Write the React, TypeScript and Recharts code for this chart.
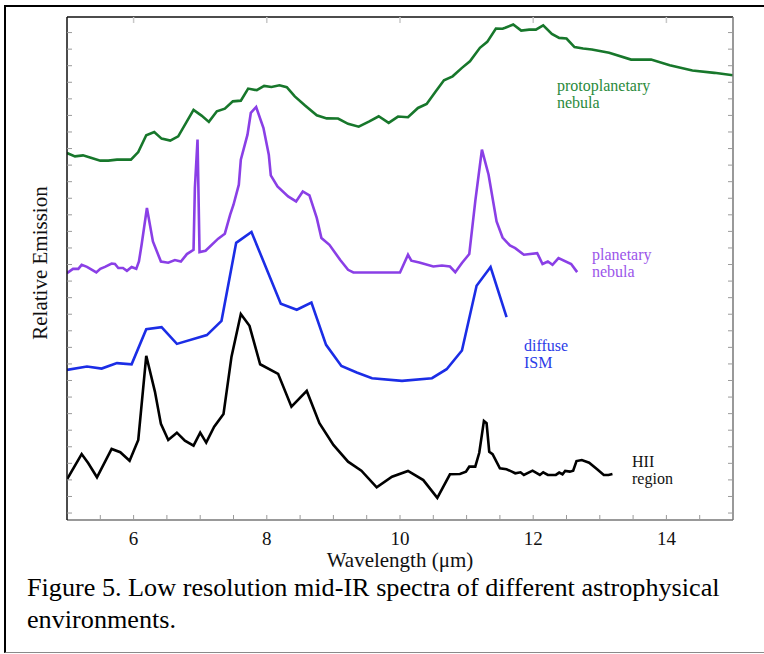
import React from 'react';
import { LineChart, Line, XAxis, YAxis } from 'recharts';

// Wavelength (µm), relative emission (arbitrary, offset per spectrum)
const protoplanetary: number[][] = [
  [5.0, 21.73], [5.12, 21.53], [5.24, 21.59], [5.37, 21.43], [5.5, 21.27], [5.62, 21.27], [5.75, 21.33],
  [5.96, 21.33], [6.07, 21.79], [6.19, 22.8], [6.31, 23.0], [6.42, 22.6], [6.55, 22.48], [6.67, 22.74],
  [6.9, 24.33], [7.02, 23.99], [7.13, 23.61], [7.25, 24.25], [7.37, 24.41], [7.49, 24.85], [7.61, 24.89],
  [7.72, 25.62], [7.85, 25.52], [7.96, 25.78], [8.07, 25.72], [8.19, 25.82], [8.3, 25.7], [8.42, 25.15],
  [8.57, 24.61], [8.75, 24.01], [8.9, 23.82], [9.07, 23.81], [9.22, 23.49], [9.38, 23.32], [9.54, 23.64],
  [9.68, 23.95], [9.83, 23.55], [9.97, 23.93], [10.12, 23.89], [10.27, 24.45], [10.4, 24.69], [10.53, 25.42],
  [10.66, 26.12], [10.79, 26.36], [10.93, 26.87], [11.05, 27.27], [11.2, 28.08], [11.31, 28.44], [11.44, 29.24],
  [11.54, 29.23], [11.58, 29.29], [11.7, 29.49], [11.82, 29.12], [11.94, 29.18], [12.04, 29.18], [12.15, 29.44],
  [12.28, 28.92], [12.39, 28.68], [12.5, 28.64], [12.62, 28.12], [12.75, 28.04], [12.88, 27.98], [13.14, 27.78],
  [13.47, 27.37], [13.77, 27.37], [14.05, 27.03], [14.39, 26.71], [14.72, 26.57], [15.0, 26.42],
];

const planetary: number[][] = [
  [5.0, 14.48], [5.09, 14.74], [5.17, 14.74], [5.22, 14.98], [5.3, 14.86], [5.44, 14.52], [5.5, 14.74],
  [5.57, 14.86], [5.67, 15.06], [5.72, 15.03], [5.77, 14.79], [5.84, 14.79], [5.9, 14.62], [5.97, 14.85],
  [6.04, 14.74], [6.08, 15.18], [6.12, 16.19], [6.2, 18.41], [6.29, 16.39], [6.41, 15.18], [6.52, 15.11],
  [6.62, 15.27], [6.71, 15.18], [6.8, 15.63], [6.9, 15.89], [6.92, 19.62], [6.96, 22.54], [6.99, 15.75],
  [7.08, 15.83], [7.27, 16.56], [7.37, 16.86], [7.45, 18.01], [7.5, 18.61], [7.58, 19.82], [7.61, 21.33],
  [7.71, 22.84], [7.76, 24.15], [7.84, 24.51], [7.95, 23.24], [8.03, 21.63], [8.06, 20.38], [8.16, 19.72],
  [8.32, 19.11], [8.44, 18.81], [8.54, 19.41], [8.64, 19.17], [8.75, 17.81], [8.82, 16.6], [8.94, 16.19],
  [9.1, 15.29], [9.22, 14.68], [9.3, 14.52], [10.0, 14.52], [10.12, 15.59], [10.17, 15.23], [10.29, 15.12],
  [10.5, 14.88], [10.63, 14.94], [10.75, 14.88], [10.83, 14.54], [10.93, 15.09], [11.04, 15.63], [11.13, 18.81],
  [11.23, 21.93], [11.33, 20.42], [11.45, 17.6], [11.54, 16.63], [11.65, 16.15], [11.73, 15.99], [11.86, 15.59],
  [12.06, 15.69], [12.14, 15.03], [12.22, 15.18], [12.29, 14.98], [12.38, 15.39], [12.57, 15.03], [12.66, 14.54],
];

const diffuseISM: number[][] = [
  [5.0, 8.64], [5.3, 8.84], [5.52, 8.72], [5.75, 9.05], [5.97, 8.98], [6.19, 11.1], [6.42, 11.22],
  [6.65, 10.21], [7.1, 10.74], [7.32, 11.6], [7.54, 16.31], [7.77, 16.96], [8.21, 12.63], [8.45, 12.27],
  [8.67, 12.71], [8.89, 10.15], [9.12, 8.88], [9.35, 8.48], [9.58, 8.14], [10.03, 7.98], [10.48, 8.14],
  [10.7, 8.68], [10.93, 9.81], [11.15, 13.72], [11.36, 14.85], [11.6, 11.82],
];

const hiiRegion: number[][] = [
  [5.0, 2.04], [5.22, 3.56], [5.32, 3.0], [5.45, 2.16], [5.67, 3.87], [5.8, 3.67], [5.94, 3.16],
  [6.07, 4.41], [6.19, 9.49], [6.32, 7.33], [6.41, 5.38], [6.52, 4.41], [6.65, 4.85], [6.77, 4.37],
  [6.9, 4.07], [7.0, 4.85], [7.09, 4.25], [7.21, 5.21], [7.35, 5.98], [7.47, 9.44], [7.61, 12.01],
  [7.74, 11.3], [7.9, 8.98], [8.17, 8.4], [8.37, 6.42], [8.6, 7.37], [8.79, 5.42], [9.0, 4.11],
  [9.22, 3.1], [9.42, 2.56], [9.65, 1.55], [9.88, 2.19], [10.12, 2.54], [10.35, 1.99], [10.56, 0.92],
  [10.75, 2.34], [10.9, 2.36], [10.99, 2.5], [11.04, 2.8], [11.13, 2.8], [11.19, 3.64], [11.26, 5.56],
  [11.3, 5.42], [11.34, 3.7], [11.39, 3.55], [11.5, 2.7], [11.6, 2.64], [11.68, 2.5], [11.73, 2.4],
  [11.81, 2.46], [11.86, 2.3], [11.99, 2.56], [12.1, 2.3], [12.15, 2.46], [12.22, 2.3], [12.34, 2.3],
  [12.39, 2.44], [12.44, 2.34], [12.48, 2.54], [12.55, 2.5], [12.6, 2.56], [12.65, 3.14], [12.73, 3.2],
  [12.84, 3.04], [12.96, 2.64], [13.06, 2.3], [13.13, 2.3], [13.19, 2.36],
];

const xLabelTicks = [6, 8, 10, 12, 14];
const xMinorTicks = [5.5, 6, 6.5, 7, 7.5, 8, 8.5, 9, 9.5, 10, 10.5, 11, 11.5, 12, 12.5, 13, 13.5, 14, 14.5];
const yTicks = [0, 1, 2, 3, 4, 5, 6, 7, 8, 9, 10, 11, 12, 13, 14, 15, 16, 17, 18, 19, 20, 21, 22, 23, 24, 25, 26, 27, 28, 29];

const toPts = (arr: number[][]) => arr.map(([x, y]) => ({ x, y }));

const FONT = '"Liberation Serif", "Times New Roman", serif';
const TICK_COLOR = '#9a9a9a';

const BottomTick = (props: any) => {
  const { x, y, payload } = props;
  const v = payload.value;
  return (
    <g>
      <line x1={x} x2={x} y1={y} y2={y - 5} stroke={TICK_COLOR} strokeWidth={1} />
      {xLabelTicks.includes(v) ? (
        <text x={x} y={y + 25} textAnchor="middle" fontFamily={FONT} fontSize={19} fill="#111">
          {v}
        </text>
      ) : null}
    </g>
  );
};

const TopTick = (props: any) => {
  const { x, y } = props;
  return <line x1={x} x2={x} y1={y} y2={y + 6} stroke="#c8c8c8" strokeWidth={1.5} />;
};

const LeftTick = (props: any) => {
  const { x, y } = props;
  return <line x1={x} x2={x + 5} y1={y} y2={y} stroke={TICK_COLOR} strokeWidth={1} />;
};

const RightTick = (props: any) => {
  const { x, y } = props;
  return <line x1={x} x2={x - 5} y1={y} y2={y} stroke={TICK_COLOR} strokeWidth={1} />;
};

const series = [
  { name: 'protoplanetary', data: protoplanetary, color: '#17772b' },
  { name: 'planetary', data: planetary, color: '#8a3fe6' },
  { name: 'diffuse', data: diffuseISM, color: '#1b2de6' },
  { name: 'hii', data: hiiRegion, color: '#000000' },
];

export default function App() {
  return (
    <div style={{ position: 'absolute', left: 0, top: 0, width: 764, height: 654, background: '#fff', overflow: 'hidden' }}>
      <div
        style={{
          position: 'absolute',
          left: 4,
          top: 5,
          width: 800,
          height: 645,
          borderLeft: '2px solid #000',
          borderTop: '2px solid #000',
          borderBottom: '1px solid #8a8a8a',
        }}
      />
      <div style={{ position: 'absolute', left: 0, top: 0 }}>
        <LineChart width={764} height={654} margin={{ top: 16, right: 30, bottom: 133, left: 66 }}>
          <XAxis
            xAxisId="bottom"
            type="number"
            dataKey="x"
            domain={[5, 15]}
            ticks={xMinorTicks}
            interval={0}
            height={1}
            tickSize={0}
            tickMargin={0}
            tickLine={false}
            tick={<BottomTick />}
            axisLine={{ stroke: '#777', strokeWidth: 1.5 }}
            allowDataOverflow
          />
          <XAxis
            xAxisId="top"
            orientation="top"
            type="number"
            dataKey="x"
            domain={[5, 15]}
            ticks={xLabelTicks}
            interval={0}
            height={1}
            tickSize={0}
            tickMargin={0}
            tickLine={false}
            tick={<TopTick />}
            axisLine={{ stroke: '#111', strokeWidth: 1.5 }}
            allowDataOverflow
          />
          <YAxis
            yAxisId="left"
            type="number"
            domain={[-0.42, 29.94]}
            ticks={yTicks}
            interval={0}
            width={1}
            tickSize={0}
            tickMargin={0}
            tickLine={false}
            tick={<LeftTick />}
            axisLine={{ stroke: '#111', strokeWidth: 1.5 }}
            allowDataOverflow
          />
          <YAxis
            yAxisId="right"
            orientation="right"
            type="number"
            domain={[-0.42, 29.94]}
            ticks={yTicks}
            interval={0}
            width={1}
            tickSize={0}
            tickMargin={0}
            tickLine={false}
            tick={<RightTick />}
            axisLine={{ stroke: '#777', strokeWidth: 1.5 }}
            allowDataOverflow
          />
          {series.map((s) => (
            <Line
              key={s.name}
              xAxisId="bottom"
              yAxisId="left"
              data={toPts(s.data)}
              dataKey="y"
              type="linear"
              stroke={s.color}
              strokeWidth={2.6}
              dot={false}
              activeDot={false}
              isAnimationActive={false}
            />
          ))}
        </LineChart>
      </div>
      <svg width={764} height={654} style={{ position: 'absolute', left: 0, top: 0, pointerEvents: 'none' }}>
        <g fontFamily={FONT}>
          <text x={557} y={91} fontSize={16} fill="#2a8a3b">protoplanetary</text>
          <text x={557} y={108} fontSize={16} fill="#2a8a3b">nebula</text>
          <text x={592} y={260} fontSize={16} fill="#9b55ea">planetary</text>
          <text x={592} y={277} fontSize={16} fill="#9b55ea">nebula</text>
          <text x={524} y={351} fontSize={16} fill="#2c3ce8">diffuse</text>
          <text x={524} y={368} fontSize={16} fill="#2c3ce8">ISM</text>
          <text x={632} y={467} fontSize={16} fill="#111">HII</text>
          <text x={632} y={484} fontSize={16} fill="#111">region</text>
          <text x={400} y={567} fontSize={21} textAnchor="middle" fill="#111">Wavelength (μm)</text>
          <text x={47} y={263} fontSize={21} textAnchor="middle" fill="#111" transform="rotate(-90 47 263)">
            Relative Emission
          </text>
          <text x={27} y={596} fontSize={26.2} fill="#000">Figure 5. Low resolution mid-IR spectra of different astrophysical</text>
          <text x={27} y={628} fontSize={26.2} fill="#000">environments.</text>
        </g>
      </svg>
    </div>
  );
}
